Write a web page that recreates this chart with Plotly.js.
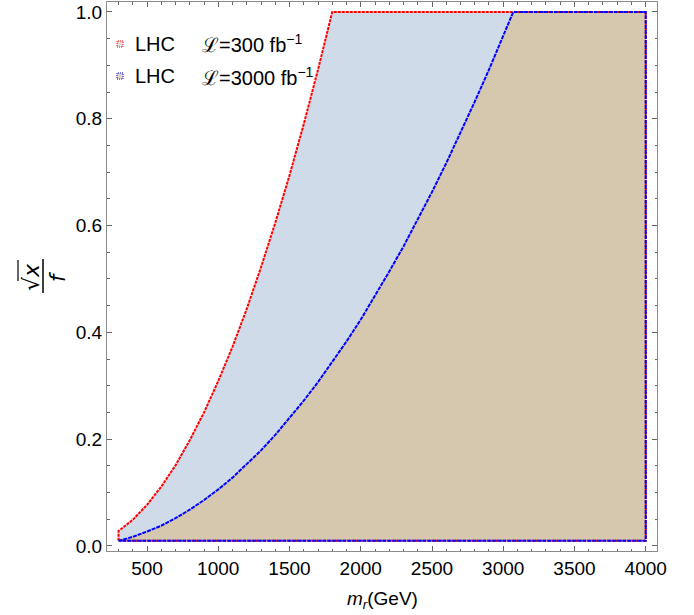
<!DOCTYPE html>
<html>
<head>
<meta charset="utf-8">
<script src="https://cdn.plot.ly/plotly-3.0.1.min.js"></script>
<style>html,body{margin:0;padding:0;background:#fff;}#chart{width:694px;height:615px;}</style>
</head>
<body>
<div id="chart"></div>
<script>
// LHC 300 fb^-1 boundary
const mr300 = [300, 400, 500, 600, 700, 800, 900, 1000, 1100, 1200, 1300, 1400, 1500, 1600, 1700, 1800];
const y300  = [0.028, 0.049, 0.077, 0.111, 0.151, 0.198, 0.250, 0.309, 0.373, 0.444, 0.522, 0.605, 0.694, 0.790, 0.892, 1.0];
// LHC 3000 fb^-1 boundary
const mr3000 = [300, 400, 500, 600, 700, 800, 900, 1000, 1100, 1200, 1300, 1400, 1500, 1600, 1700, 1800, 1900, 2000, 2100, 2200, 2300, 2400, 2500, 2600, 2700, 2800, 2900, 3000, 3070];
const y3000  = [0.010, 0.017, 0.027, 0.038, 0.052, 0.068, 0.086, 0.106, 0.128, 0.153, 0.179, 0.208, 0.239, 0.272, 0.307, 0.344, 0.383, 0.424, 0.468, 0.514, 0.561, 0.611, 0.663, 0.717, 0.773, 0.832, 0.892, 0.955, 1.0];
const mMin = 300, mMax = 4000, yMin = 0.01, yMax = 1.0;
const xTicks = [500, 1000, 1500, 2000, 2500, 3000, 3500, 4000];
const yTicks = [0.0, 0.2, 0.4, 0.6, 0.8, 1.0];
const yTickText = ['0.0', '0.2', '0.4', '0.6', '0.8', '1.0'];
const legendNames = ['LHC', 'LHC'];
const legendLumi = ['ℒ=300 fb<sup>−1</sup>', 'ℒ=3000 fb<sup>−1</sup>'];

function region(mx, my) {
  const x = [mMin].concat(mx, [mMax, mMax, mMin]);
  const y = [yMin].concat(my, [yMax, yMin, yMin]);
  return {x, y};
}
const r1 = region(mr300, y300);
const r2 = region(mr3000, y3000);

const traces = [
  {x: r1.x, y: r1.y, type: 'scatter', mode: 'lines', fill: 'toself', fillcolor: '#cfdbe9',
   line: {color: 'rgba(0,0,0,0)', width: 0}, hoverinfo: 'skip', showlegend: false},
  {x: r2.x, y: r2.y, type: 'scatter', mode: 'lines', fill: 'toself', fillcolor: '#d5c8ae',
   line: {color: 'rgba(0,0,0,0)', width: 0}, hoverinfo: 'skip', showlegend: false},
  {x: r1.x, y: r1.y, type: 'scatter', mode: 'lines',
   line: {color: 'red', width: 2, dash: '3px,1px'}, hoverinfo: 'skip', showlegend: false},
  {x: r2.x, y: r2.y, type: 'scatter', mode: 'lines',
   line: {color: 'blue', width: 2, dash: '4px,1px'}, hoverinfo: 'skip', showlegend: false}
];

const L = 107, R = 657, T = 2, B = 551;
const px = v => (v - L) / (R - L);
const py = v => (B - v) / (B - T);

const font = 'Liberation Sans, Arial, sans-serif';
const annotations = [];
const shapes = [];
const rowsY = [44, 76];
const markColors = ['red', 'blue'];
for (let i = 0; i < 2; i++) {
  annotations.push({xref: 'paper', yref: 'paper', x: px(133), y: py(rowsY[i]), xanchor: 'left', yanchor: 'middle',
    text: legendNames[i], showarrow: false, font: {family: font, size: 20, color: '#000'}});
  annotations.push({xref: 'paper', yref: 'paper', x: px(200), y: py(rowsY[i]), xanchor: 'left', yanchor: 'middle',
    text: legendLumi[i], showarrow: false, font: {family: font, size: 20, color: '#000'}});
  shapes.push({type: 'rect', xref: 'paper', yref: 'paper', x0: px(117), x1: px(123), y0: py(rowsY[i] + 3), y1: py(rowsY[i] - 3),
    line: {color: markColors[i], width: 1, dash: '1px,1px'}, fillcolor: i === 0 ? '#dcdcdc' : '#e0d8c0'});
}
// y-axis title: sqrt(x)/f
annotations.push({xref: 'paper', yref: 'paper', x: px(31), y: py(277), xanchor: 'center', yanchor: 'middle',
  text: '√<i>x</i>', textangle: -90, showarrow: false, font: {family: 'DejaVu Sans', size: 22, color: '#000'}});
annotations.push({xref: 'paper', yref: 'paper', x: px(58), y: py(277), xanchor: 'center', yanchor: 'middle',
  text: '<i>f</i>', textangle: -90, showarrow: false, font: {family: 'DejaVu Sans', size: 21, color: '#000'}});
shapes.push({type: 'line', xref: 'paper', yref: 'paper', x0: px(43), x1: px(43), y0: py(259), y1: py(293), line: {color: '#000', width: 1.5}});
shapes.push({type: 'line', xref: 'paper', yref: 'paper', x0: px(18), x1: px(18), y0: py(260), y1: py(281), line: {color: '#000', width: 1.2}});
// x-axis title
annotations.push({xref: 'paper', yref: 'paper', x: px(382), y: py(600), xanchor: 'center', yanchor: 'middle',
  text: '<i>m<sub>r</sub></i>(GeV)', showarrow: false, font: {family: font, size: 19, color: '#000'}});

const axisCommon = {
  showgrid: false, zeroline: false, showline: true, linecolor: '#8c8c8c', linewidth: 1,
  mirror: 'ticks', ticks: 'inside', ticklen: 5, tickcolor: '#666', tickwidth: 1,
  tickfont: {family: font, size: 19, color: '#000'}
};

const layout = {
  width: 694, height: 615,
  margin: {l: L, r: 694 - R, t: T, b: 615 - B},
  paper_bgcolor: '#fff', plot_bgcolor: '#fff',
  showlegend: false,
  xaxis: Object.assign({}, axisCommon, {range: [219.3, 4079], tickvals: xTicks, ticktext: xTicks.map(String),
    minor: {dtick: 100, tick0: 0, ticks: 'inside', ticklen: 2.5, tickcolor: '#666', showgrid: false}}),
  yaxis: Object.assign({}, axisCommon, {range: [-0.0094, 1.0187], tickvals: yTicks, ticktext: yTickText,
    minor: {dtick: 0.05, tick0: 0, ticks: 'inside', ticklen: 2.5, tickcolor: '#666', showgrid: false}}),
  annotations, shapes
};

Plotly.newPlot('chart', traces, layout, {staticPlot: true, displayModeBar: false});
</script>
</body>
</html>
